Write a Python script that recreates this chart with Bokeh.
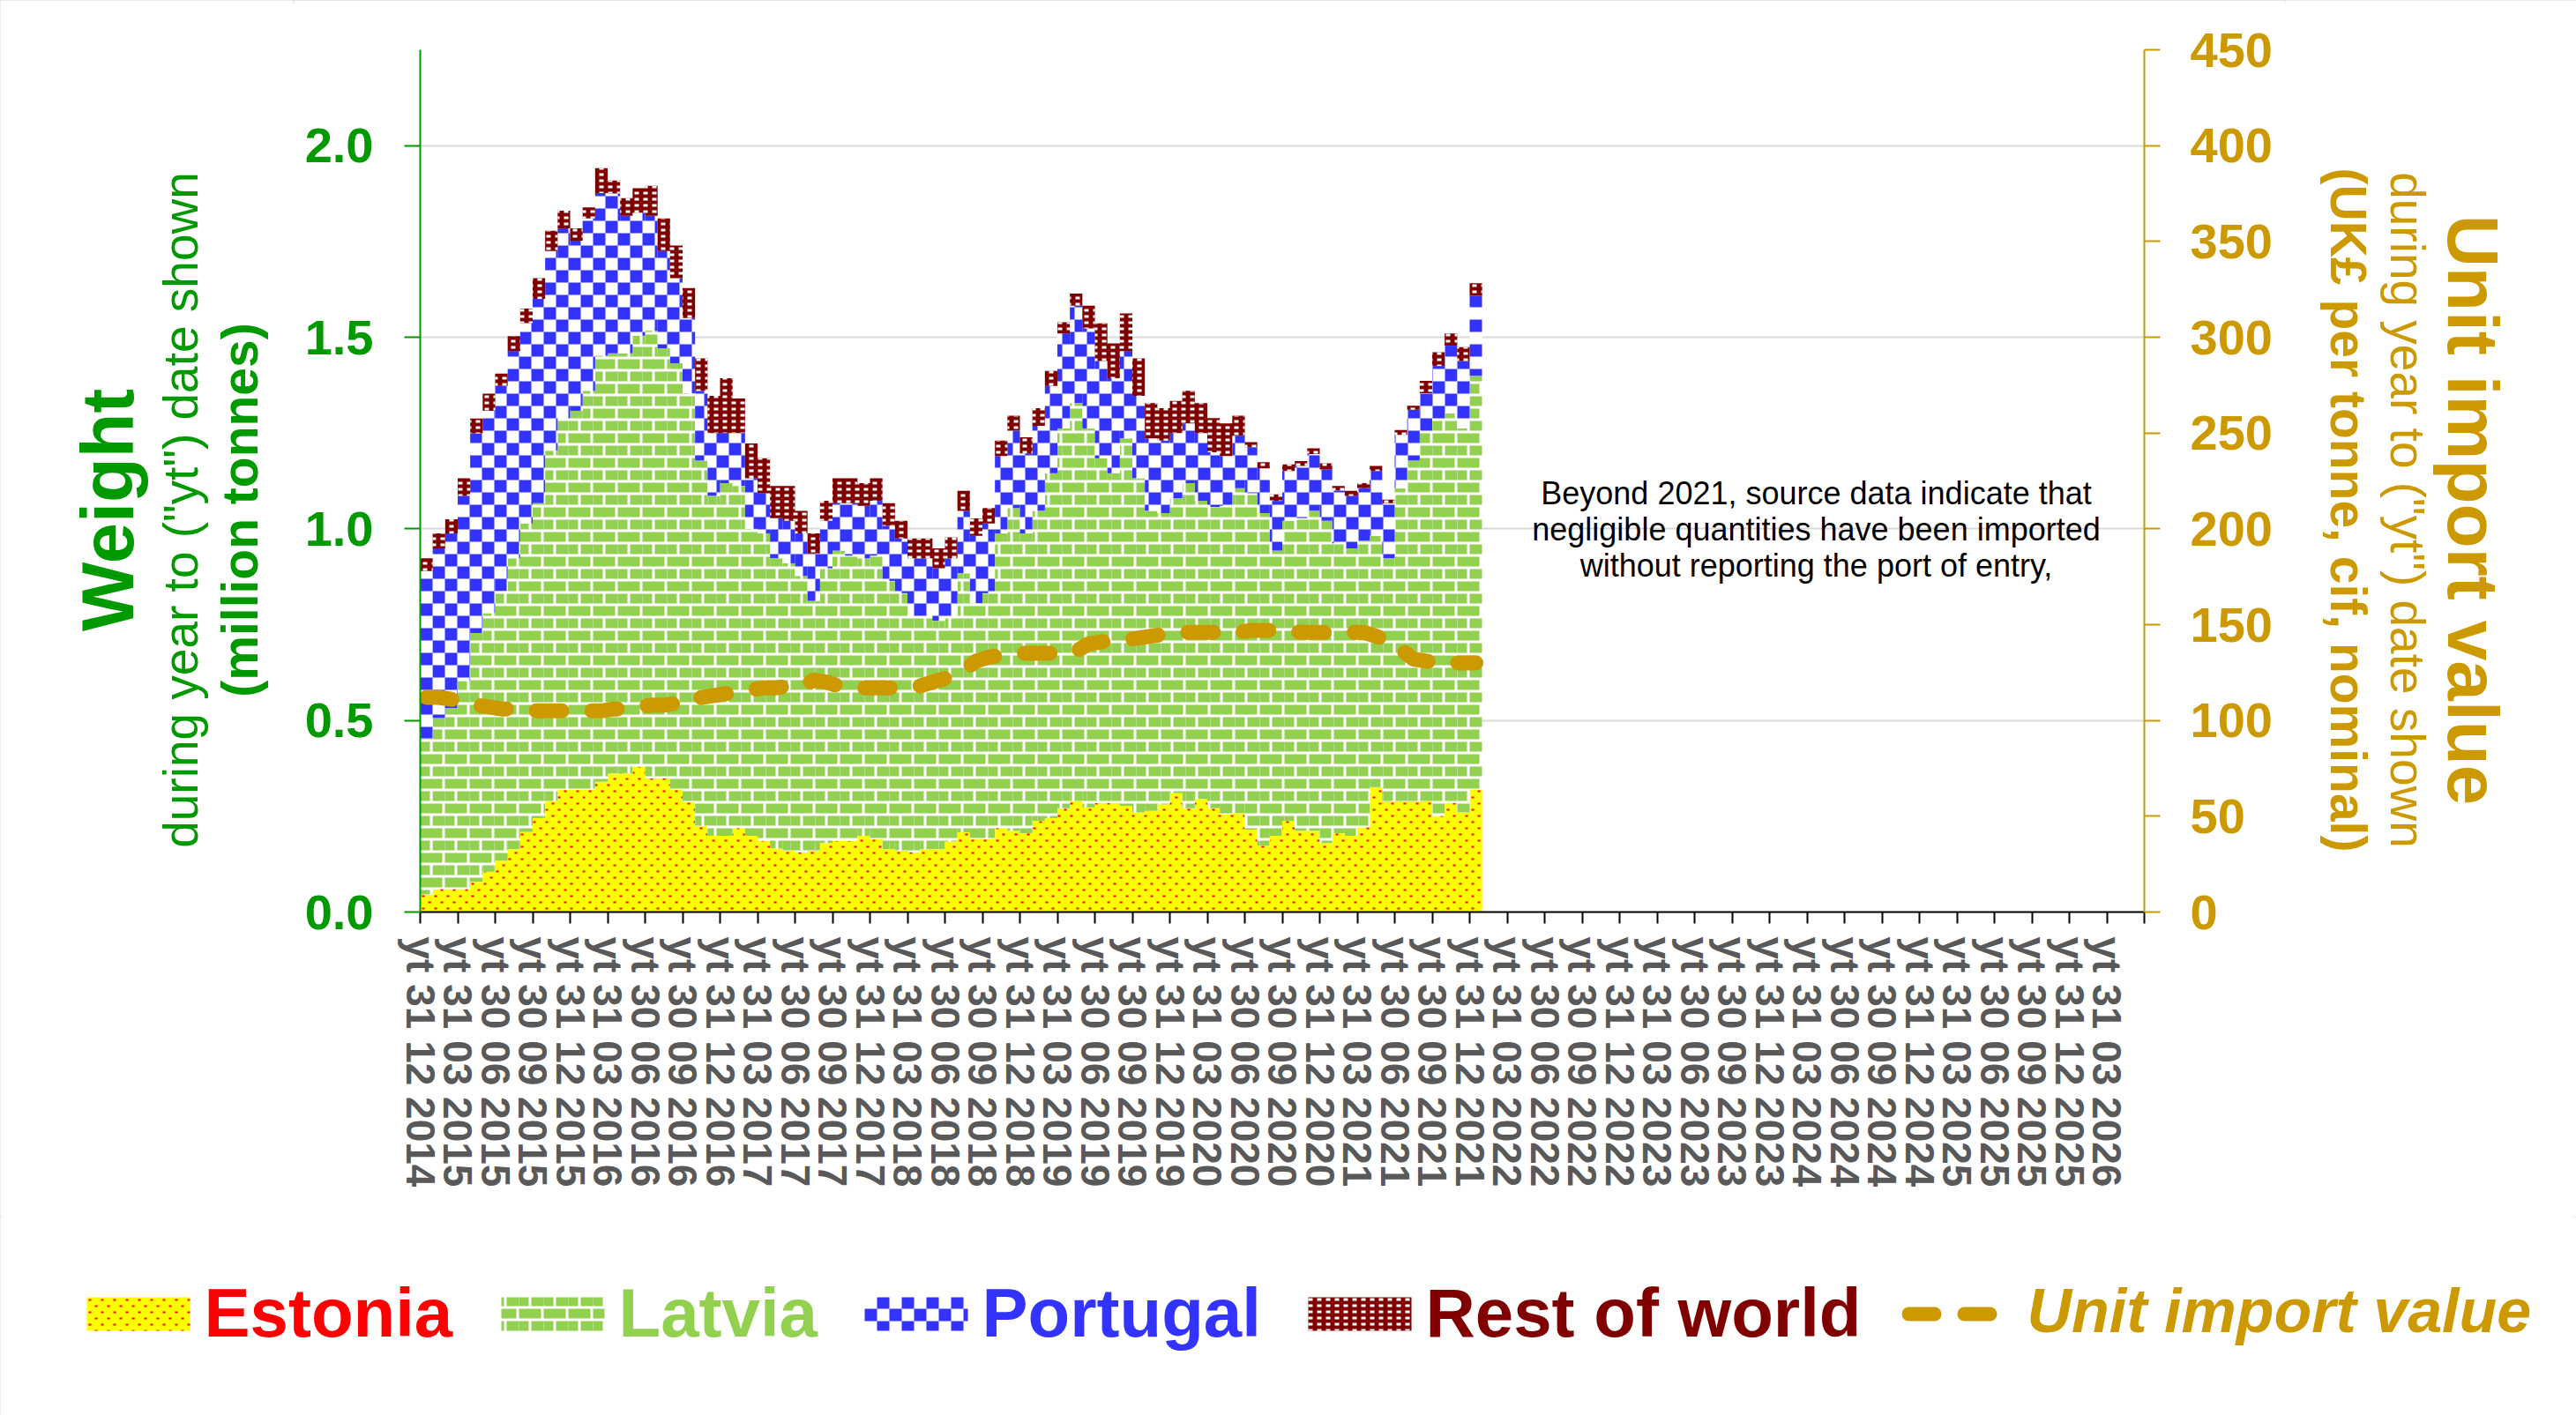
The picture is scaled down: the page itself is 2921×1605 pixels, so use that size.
import math
import bisect
import numpy as np
from bokeh.plotting import figure
from bokeh.models import Range1d, LinearAxis, FixedTicker, PrintfTickFormatter, Label
from bokeh.layouts import column, row
from bokeh.core.properties import value
from bokeh.embed import file_html
from bokeh.resources import INLINE

FONT = "Liberation Sans"

# ---------------- data (monthly, yt Dec 2014 .. yt Dec 2021) ----------------
estonia = [0.046, 0.060, 0.060, 0.060, 0.079, 0.105, 0.134, 0.164, 0.209, 0.245,
           0.290, 0.319, 0.319, 0.319, 0.340, 0.362, 0.362, 0.379, 0.349, 0.349,
           0.320, 0.287, 0.225, 0.199, 0.199, 0.219, 0.199, 0.186, 0.166, 0.160,
           0.156, 0.160, 0.180, 0.186, 0.186, 0.199, 0.190, 0.164, 0.160, 0.156,
           0.164, 0.164, 0.184, 0.208, 0.190, 0.190, 0.219, 0.212, 0.206, 0.238,
           0.245, 0.271, 0.290, 0.273, 0.284, 0.284, 0.277, 0.260, 0.264, 0.281,
           0.310, 0.271, 0.295, 0.271, 0.255, 0.258, 0.215, 0.173, 0.199, 0.238,
           0.212, 0.212, 0.180, 0.206, 0.199, 0.221, 0.326, 0.290, 0.290, 0.290,
           0.290, 0.251, 0.284, 0.260, 0.320]

latvia = [0.407, 0.446, 0.472, 0.543, 0.649, 0.675, 0.704, 0.759, 0.805, 0.822,
          0.914, 0.969, 0.989, 1.041, 1.112, 1.096, 1.096, 1.125, 1.168, 1.122,
          1.112, 1.067, 0.953, 0.887, 0.920, 0.893, 0.801, 0.802, 0.757, 0.750,
          0.721, 0.652, 0.717, 0.757, 0.744, 0.724, 0.740, 0.700, 0.672, 0.617,
          0.609, 0.596, 0.589, 0.676, 0.616, 0.642, 0.769, 0.842, 0.782, 0.809,
          0.900, 0.991, 1.038, 0.989, 0.900, 0.861, 0.959, 0.872, 0.783, 0.760,
          0.770, 0.848, 0.778, 0.786, 0.805, 0.848, 0.878, 0.868, 0.744, 0.783,
          0.816, 0.835, 0.841, 0.756, 0.750, 0.748, 0.656, 0.633, 0.816, 0.888,
          0.966, 1.037, 1.017, 1.002, 1.079]

portugal = [0.437, 0.443, 0.456, 0.483, 0.521, 0.528, 0.535, 0.541, 0.523, 0.533,
            0.521, 0.496, 0.444, 0.450, 0.424, 0.417, 0.359, 0.321, 0.300, 0.254,
            0.222, 0.196, 0.182, 0.164, 0.131, 0.138, 0.132, 0.105, 0.105, 0.111,
            0.111, 0.124, 0.124, 0.124, 0.137, 0.137, 0.143, 0.144, 0.143, 0.150,
            0.150, 0.137, 0.150, 0.163, 0.176, 0.182, 0.202, 0.202, 0.209, 0.222,
            0.228, 0.248, 0.254, 0.261, 0.254, 0.248, 0.228, 0.215, 0.189, 0.189,
            0.170, 0.156, 0.177, 0.143, 0.130, 0.137, 0.120, 0.117, 0.130, 0.130,
            0.136, 0.148, 0.134, 0.138, 0.137, 0.137, 0.169, 0.144, 0.139, 0.133,
            0.098, 0.137, 0.177, 0.176, 0.209]

rest_of_world = [0.033, 0.039, 0.037, 0.046, 0.039, 0.045, 0.032, 0.039, 0.038, 0.054,
                 0.053, 0.046, 0.032, 0.029, 0.065, 0.034, 0.046, 0.064, 0.078, 0.085,
                 0.085, 0.078, 0.085, 0.097, 0.143, 0.090, 0.091, 0.091, 0.084, 0.091,
                 0.059, 0.052, 0.052, 0.065, 0.065, 0.059, 0.059, 0.059, 0.046, 0.052,
                 0.052, 0.052, 0.055, 0.052, 0.045, 0.040, 0.040, 0.039, 0.042, 0.046,
                 0.039, 0.029, 0.032, 0.059, 0.098, 0.091, 0.098, 0.098, 0.092, 0.085,
                 0.084, 0.085, 0.078, 0.089, 0.085, 0.052, 0.013, 0.016, 0.017, 0.017,
                 0.013, 0.015, 0.016, 0.012, 0.013, 0.013, 0.013, 0.009, 0.013, 0.010,
                 0.032, 0.036, 0.032, 0.036, 0.033]

unit_value = [112, 112, 111, 110, 108, 107, 106, 106, 105, 105,
              105, 105, 105, 105, 105, 106, 106, 107, 108, 108,
              109, 109, 112, 113, 114, 115, 116, 117, 117, 118,
              118, 121, 120, 118, 117, 117, 117, 117, 117, 117,
              119, 121, 123, 126, 131, 133, 134, 135, 135, 135,
              135, 135, 136, 140, 141, 142, 142, 143, 144, 145,
              146, 146, 146, 146, 146, 146, 147, 147, 147, 147,
              146, 146, 146, 146, 146, 146, 144, 141, 137, 132,
              131, 130, 130, 130, 130]

# x axis: monthly categories from yt Dec 2014 to yt Jun 2026, labelled quarterly
n_months_axis = 138
quarter_ends = ["31 03", "30 06", "30 09", "31 12"]
tick_labels = ["yt 31 12 2014"] + \
    [f"yt {q} {y}" for y in range(2015, 2026) for q in quarter_ends] + ["yt 31 03 2026"]

left_ticks = [0, 0.5, 1.0, 1.5, 2.0]
right_ticks = [0, 50, 100, 150, 200, 250, 300, 350, 400, 450]

series_names = ["Estonia", "Latvia", "Portugal", "Rest of world"]
annotation_lines = ["Beyond 2021, source data indicate that",
                    "negligible quantities have been imported",
                    "without reporting the port of entry,"]

# ---------------- styles ----------------
GREEN = "#009900"
GOLD = "#CC9900"
# (background colour, foreground colour, tile w, tile h, foreground cells in px)
PATTERNS = [
    ("#FFFF00", "#FF0000", 14, 14, [(2, 3, 5, 5), (9, 10, 12, 12)]),            # dots
    ("#FFFFFF", "#92D050", 28, 28, [(0, 0, 25, 11), (0, 14, 11, 25), (14, 14, 28, 25)]),  # bricks
    ("#FFFFFF", "#3333FF", 28, 28, [(0, 0, 14, 14), (14, 14, 28, 28)]),         # checker
    ("#800000", "#FFFFFF", 10, 7, [(3, 2, 8, 5)]),                              # weave
]
LEGEND_TEXT_COLORS = ["#FF0000", "#92D050", "#3333FF", "#800000"]


def pattern_quads(x_edges, bots, tops, tw, th, cells, min_w=0.25, min_h=0.25):
    """Tile pattern cells over step columns [x_edges[k], x_edges[k+1]] x [bots[k], tops[k]]."""
    L, R, B, T = [], [], [], []
    m = len(bots)
    X0, X1 = x_edges[0], x_edges[-1]
    Y0, Y1 = min(bots), max(tops)

    def flush(c):
        if c is not None:
            L.append(c[0]); R.append(c[1]); B.append(c[2]); T.append(c[3])

    for ty in range(math.floor(Y0 / th) - 1, math.floor(Y1 / th) + 1):
        for tx in range(math.floor(X0 / tw) - 1, math.floor(X1 / tw) + 1):
            for (rx0, ry0, rx1, ry1) in cells:
                ax0, ax1 = tx * tw + rx0, tx * tw + rx1
                ay0, ay1 = ty * th + ry0, ty * th + ry1
                if ax1 <= X0 or ax0 >= X1 or ay1 <= Y0 or ay0 >= Y1:
                    continue
                k0 = max(0, bisect.bisect_right(x_edges, ax0) - 1)
                k1 = min(m - 1, bisect.bisect_left(x_edges, ax1) - 1)
                cur = None
                for k in range(k0, k1 + 1):
                    cx0 = max(ax0, x_edges[k]); cx1 = min(ax1, x_edges[k + 1])
                    cy0 = max(ay0, bots[k]); cy1 = min(ay1, tops[k])
                    if cx1 - cx0 < min_w or cy1 - cy0 < min_h:
                        flush(cur); cur = None
                        continue
                    if cur is not None and abs(cur[1] - cx0) < 1e-6 and cur[2] == cy0 and cur[3] == cy1:
                        cur[1] = cx1
                    else:
                        flush(cur); cur = [cx0, cx1, cy0, cy1]
                flush(cur)
    return L, R, B, T


def no_align(f):
    if "frame_align" in f.properties():
        f.frame_align = False


# ---------------- page geometry ----------------
PAGE_W, PAGE_H = 2921, 1605
H_MAIN = 1380
LT_W = 332                 # left title strip
RT_X = 2591                # right title strip starts here
FRAME_L, FRAME_R, FRAME_T, FRAME_B = 476, 2431, 56, 1034

# ---------------- main figure ----------------
p = figure(width=RT_X - LT_W, height=H_MAIN,
           x_range=Range1d(0, n_months_axis), y_range=Range1d(0, 2.25),
           output_backend="svg", toolbar_location=None,
           min_border_left=FRAME_L - LT_W, min_border_right=RT_X - FRAME_R,
           min_border_top=FRAME_T, min_border_bottom=H_MAIN - FRAME_B,
           background_fill_color="white", border_fill_color="white", outline_line_color=None)
no_align(p)
p.extra_y_ranges = {"uv": Range1d(0, 450)}

PXX = (FRAME_R - FRAME_L) / n_months_axis
PXY = (FRAME_B - FRAME_T) / 2.25

n = len(estonia)
xs = np.repeat(np.arange(n + 1), 2)[1:-1]
x_edges_px = [i * PXX for i in range(n + 1)]
series = [np.array(estonia), np.array(latvia), np.array(portugal), np.array(rest_of_world)]
bottom = np.zeros(n)
for s, (bg, fg, tw, th, cells) in zip(series, PATTERNS):
    top = bottom + s
    p.varea(x=xs, y1=np.repeat(bottom, 2), y2=np.repeat(top, 2), fill_color=bg, fill_alpha=1.0)
    L, R, B, T = pattern_quads(x_edges_px, list(bottom * PXY), list(top * PXY), tw, th, cells)
    p.quad(left=np.array(L) / PXX, right=np.array(R) / PXX,
           bottom=np.array(B) / PXY, top=np.array(T) / PXY,
           fill_color=fg, line_color=None)
    bottom = top

p.line(x=np.arange(n) + 0.5, y=unit_value, y_range_name="uv", line_color=GOLD,
       line_width=17, line_dash="29 34", line_cap="round", line_join="round")

# x axis
xa = p.xaxis[0]
xa.ticker = FixedTicker(ticks=list(range(0, n_months_axis + 1, 3)))
ov = {i * 3: lab for i, lab in enumerate(tick_labels)}
ov[n_months_axis] = ""
xa.major_label_overrides = ov
xa.major_label_orientation = -math.pi / 2
xa.major_label_text_font = FONT
xa.major_label_text_font_size = "46px"
xa.major_label_text_font_style = "bold"
xa.major_label_text_color = "#595959"
xa.major_label_standoff = 15
xa.major_tick_out = 13
xa.major_tick_in = 0
xa.major_tick_line_color = "black"
xa.major_tick_line_width = 2
xa.minor_tick_line_color = None
xa.axis_line_color = "black"
xa.axis_line_width = 2

# left axis
ya = p.yaxis[0]
ya.ticker = FixedTicker(ticks=left_ticks)
ya.formatter = PrintfTickFormatter(format="%.1f")
ya.major_label_text_font = FONT
ya.major_label_text_font_size = "56px"
ya.major_label_text_font_style = "bold"
ya.major_label_text_color = GREEN
ya.major_label_standoff = 35
ya.major_tick_out = 18
ya.major_tick_in = 0
ya.major_tick_line_color = GREEN
ya.major_tick_line_width = 2
ya.minor_tick_line_color = None
ya.axis_line_color = GREEN
ya.axis_line_width = 2

# right axis
ra = LinearAxis(y_range_name="uv", ticker=FixedTicker(ticks=right_ticks))
ra.major_label_text_font = FONT
ra.major_label_text_font_size = "56px"
ra.major_label_text_font_style = "bold"
ra.major_label_text_color = GOLD
ra.major_label_standoff = 34
ra.major_tick_out = 18
ra.major_tick_in = 0
ra.major_tick_line_color = GOLD
ra.major_tick_line_width = 2
ra.minor_tick_line_color = None
ra.axis_line_color = GOLD
ra.axis_line_width = 2
p.add_layout(ra, "right")

p.ygrid.ticker = ya.ticker
p.ygrid.grid_line_color = "#D9D9D9"
p.ygrid.grid_line_width = 2
p.xgrid.grid_line_color = None

# annotation inside the plot area
for k, line in enumerate(annotation_lines):
    p.add_layout(Label(x=(2059 - FRAME_L) / PXX, y=(FRAME_B - (559 + 41 * k)) / PXY, text=line,
                       text_align="center", text_baseline="middle", text_font=FONT,
                       text_font_size="36px", text_color="black"))


def strip(x0, x1, y0, y1):
    f = figure(width=x1 - x0, height=y1 - y0, x_range=Range1d(x0, x1), y_range=Range1d(y1, y0),
               output_backend="svg", toolbar_location=None, x_axis_location=None,
               y_axis_location=None, min_border=0, outline_line_color=None,
               background_fill_color="white", border_fill_color="white")
    f.xgrid.visible = False
    f.ygrid.visible = False
    no_align(f)
    return f


def txt(f, s, x, y, size, style, color, angle=0.0, align="center"):
    f.text(x=[x], y=[y], text=[s], angle=angle, text_align=align, text_baseline="alphabetic",
           text_color=color, text_font=value(FONT), text_font_size=size, text_font_style=style)


# ---------------- left title strip ----------------
lt = strip(0, LT_W, 0, H_MAIN)
txt(lt, "Weight", 122, 578, "83px", "bold", GREEN, math.pi / 2)
txt(lt, 'during year to ("yt") date shown', 204, 578, "55px", "normal", GREEN, math.pi / 2)
txt(lt, "(million tonnes)", 271, 578, "57px", "bold", GREEN, math.pi / 2)

# ---------------- right title strip ----------------
rt = strip(RT_X, PAGE_W, 0, H_MAIN)
txt(rt, "Unit import value", 2804, 578, "82px", "bold", GOLD, -math.pi / 2)
txt(rt, 'during year to ("yt") date shown', 2729, 578, "55px", "normal", GOLD, -math.pi / 2)
txt(rt, "(UK£ per tonne, cif, nominal)", 2662, 578, "57px", "bold", GOLD, -math.pi / 2)

# ---------------- legend strip ----------------
lg = strip(0, PAGE_W, H_MAIN, PAGE_H)
swatch_left = [98, 568, 980, 1483]
for (bg, fg, tw, th, cells), lab, tcol, sl in zip(PATTERNS, series_names, LEGEND_TEXT_COLORS, swatch_left):
    lg.quad(left=[sl], right=[sl + 117], top=[1471], bottom=[1509], fill_color=bg, line_color=None)
    L, R, B, T = pattern_quads([sl, sl + 117], [1471], [1509], tw, th, cells)
    lg.quad(left=L, right=R, bottom=B, top=T, fill_color=fg, line_color=None)
    txt(lg, lab, sl + 133, 1488, "78px", "bold", tcol, align="left")

lg.line(x=[2164, 2260], y=[1490, 1490], line_color=GOLD, line_width=16,
        line_dash="29 34", line_cap="round")
txt(lg, "Unit import value", 2298, 1486, "70px", "bold italic", GOLD, align="left")

layout = column(row(lt, p, rt, spacing=0), lg, spacing=0)
# thin light-grey chart-area border drawn over the page edge (does not affect layout)
layout.styles = {"outline": "4px solid #D9D9D9", "outline-offset": "-4px"}
open("out.html", "w").write(file_html(layout, INLINE))
